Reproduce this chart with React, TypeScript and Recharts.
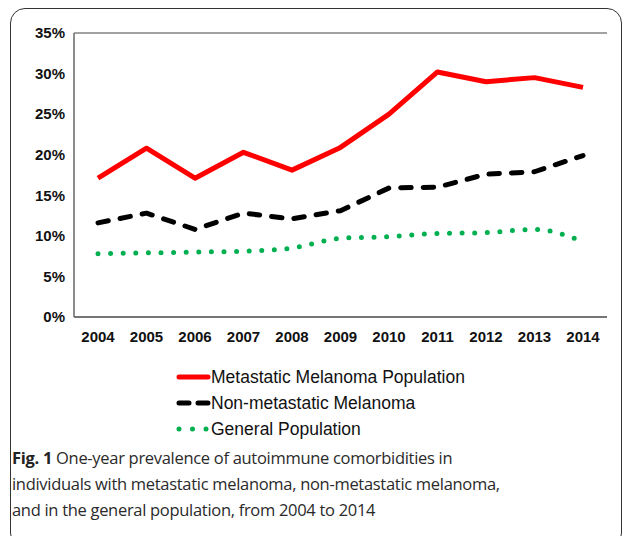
import { LineChart, Line, XAxis, YAxis, CartesianGrid } from "recharts";

const years = ["2004", "2005", "2006", "2007", "2008", "2009", "2010", "2011", "2012", "2013", "2014"];
const metastatic = [17.1, 20.8, 17.1, 20.3, 18.1, 20.9, 25.0, 30.2, 29.0, 29.5, 28.3];
const nonMetastatic = [11.6, 12.8, 10.8, 12.8, 12.1, 13.1, 15.9, 16.0, 17.6, 17.9, 19.9];
const general = [7.8, 7.9, 8.0, 8.1, 8.5, 9.7, 9.9, 10.3, 10.4, 10.8, 9.3];
const yTicks = [0, 5, 10, 15, 20, 25, 30, 35];

type Curve = "linear" | "monotone";

const series = [
  { key: "metastatic", name: "Metastatic Melanoma Population", color: "#FF0000", dash: undefined as string | undefined, legendDash: undefined as string | undefined, curve: "linear" as Curve },
  { key: "nonMetastatic", name: "Non-metastatic Melanoma", color: "#000000", dash: "10.5 12", legendDash: "10 9", curve: "linear" as Curve },
  { key: "general", name: "General Population", color: "#00B050", dash: "0 12.6", legendDash: "0 13.5", curve: "monotone" as Curve },
];

const data = years.map((year, i) => ({
  year,
  metastatic: metastatic[i],
  nonMetastatic: nonMetastatic[i],
  general: general[i],
}));

const tickStyle = { fontSize: 15, fontWeight: 700, fill: "#111", fontFamily: "Liberation Sans, Arial, sans-serif" };

export default function App() {
  return (
    <div style={{ position: "fixed", left: 0, top: 0, width: 627, height: 536, background: "#fff", overflow: "hidden" }}>
      <div
        style={{
          position: "absolute",
          left: 10,
          top: 8,
          width: 612,
          height: 540,
          border: "1.5px solid #333",
          borderRadius: 15,
          boxSizing: "border-box",
        }}
      />
      <div style={{ position: "absolute", left: 0, top: 0 }}>
        <LineChart width={627} height={350} data={data} margin={{ top: 33, right: 20, left: 0, bottom: 3 }}>
          <CartesianGrid vertical={false} stroke="#444" strokeWidth={1} />
          <XAxis
            dataKey="year"
            padding={{ left: 24, right: 24 }}
            height={30}
            axisLine={{ stroke: "#666", strokeWidth: 1.5 }}
            tickLine={false}
            tickMargin={8}
            tick={tickStyle}
            interval={0}
          />
          <YAxis
            yAxisId="left"
            domain={[0, 35]}
            ticks={yTicks}
            width={74}
            axisLine={{ stroke: "#666", strokeWidth: 1.5 }}
            tickLine={false}
            tickMargin={3}
            tick={tickStyle}
            tickFormatter={(v: number) => `${v}%`}
          />
          <YAxis
            yAxisId="right"
            orientation="right"
            domain={[0, 35]}
            width={0}
            tick={false}
            tickLine={false}
            axisLine={{ stroke: "#666", strokeWidth: 1.5 }}
          />
          {series.map((s) => (
            <Line
              key={s.key}
              yAxisId="left"
              type={s.curve}
              dataKey={s.key}
              name={s.name}
              stroke={s.color}
              strokeWidth={5}
              strokeDasharray={s.dash}
              strokeLinecap={s.dash ? "round" : "butt"}
              strokeLinejoin="round"
              dot={false}
              activeDot={false}
              isAnimationActive={false}
            />
          ))}
        </LineChart>
      </div>
      <div style={{ position: "absolute", left: 176, top: 364, fontFamily: "Liberation Sans, Arial, sans-serif", fontSize: 17.5, color: "#111" }}>
        {series.map((s) => (
          <div key={s.key} style={{ display: "flex", alignItems: "center", height: 26 }}>
            <svg width={35} height={10} style={{ marginRight: 0 }}>
              <line
                x1={3}
                y1={5}
                x2={32}
                y2={5}
                stroke={s.color}
                strokeWidth={5}
                strokeDasharray={s.legendDash}
                strokeLinecap="round"
              />
            </svg>
            <span>{s.name}</span>
          </div>
        ))}
      </div>
      <div
        style={{
          position: "absolute",
          left: 12,
          top: 445,
          width: 600,
          fontFamily: "Open Sans, sans-serif",
          fontSize: 16.5,
          lineHeight: "26px",
          color: "#2a2a2a",
          letterSpacing: -0.3,
        }}
      >
        <b style={{ color: "#222" }}>Fig. 1</b> One-year prevalence of autoimmune comorbidities in
        <br />
        individuals with metastatic melanoma, non-metastatic melanoma,
        <br />
        and in the general population, from 2004 to 2014
      </div>
    </div>
  );
}
